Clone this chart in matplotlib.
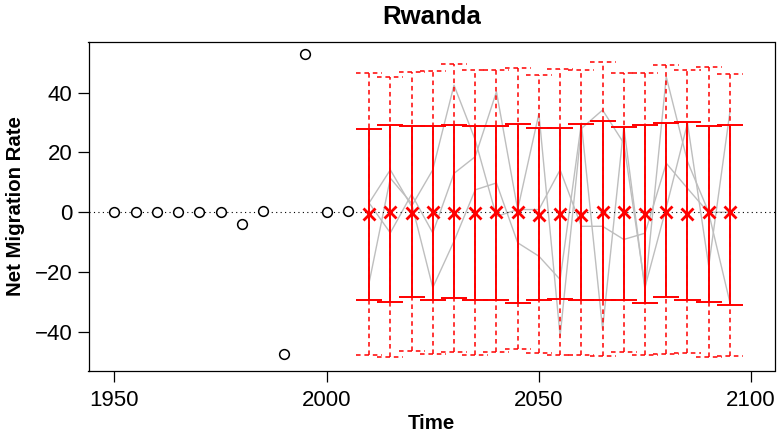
import matplotlib
matplotlib.use("Agg")
import matplotlib.pyplot as plt

# observed net migration rates
obs_years = [1950, 1955, 1960, 1965, 1970, 1975, 1980, 1985, 1990, 1995, 2000, 2005]
obs_rate = [0.0, 0.0, 0.0, 0.0, 0.0, 0.0, -3.9, 0.5, -47.4, 52.9, 0.1, 0.3]

# projections
proj_years = [2010, 2015, 2020, 2025, 2030, 2035, 2040, 2045, 2050,
              2055, 2060, 2065, 2070, 2075, 2080, 2085, 2090, 2095]
median = [-0.5, 0.0, -0.2, 0.0, -0.2, -0.2, 0.0, 0.0, -0.9,
          -0.5, -0.8, 0.0, 0.2, -0.5, 0.1, -0.5, 0.0, 0.2]
upper80 = [27.8, 29.2, 28.9, 28.9, 29.2, 28.9, 28.7, 29.5, 28.1,
           28.1, 29.4, 30.6, 28.4, 29.1, 29.8, 30.2, 28.9, 29.3]
lower80 = [-29.2, -29.9, -28.5, -29.3, -28.7, -29.3, -29.3, -30.2, -29.4,
           -28.9, -29.3, -29.3, -29.3, -30.5, -28.3, -29.4, -29.9, -31.0]
upper95 = [46.5, 45.1, 47.0, 47.3, 49.6, 47.6, 47.6, 48.1, 45.9,
           47.9, 47.6, 50.3, 46.5, 46.5, 49.2, 47.6, 48.7, 46.2]
lower95 = [-47.8, -48.5, -46.3, -47.4, -46.9, -47.8, -46.9, -45.8, -47.1,
           -47.8, -47.6, -48.0, -46.9, -47.8, -47.4, -47.1, -48.5, -48.0]

# a few sampled trajectories
traj1 = [3.1, 14.2, 2.0, 14.2, 42.5, 24.2, -1.4, 0.9, 0.9,
         14.2, -4.7, -4.7, -9.1, -7.0, 16.4, 8.0, -0.2, -30.2]
traj2 = [3.1, -6.9, 6.0, -6.9, 13.0, 18.6, 40.3, 0.9, 33.0,
         -41.4, 28.0, 34.2, 23.1, -25.0, 1.5, 29.8, -18.0, 33.6]
traj3 = [-23.6, 11.4, 3.0, -25.2, -9.7, 7.5, 9.8, -10.2, -14.7,
         -22.5, 29.8, -39.1, 28.6, -26.0, 45.3, 17.0, 0.0, 0.0]

plt.rcParams['font.family'] = ['Liberation Sans', 'DejaVu Sans']

fig = plt.figure(figsize=(7.77, 4.41), dpi=100)
ax = fig.add_axes([88.5 / 777, 1 - 371 / 441, (774.5 - 88.5) / 777, (371 - 41.7) / 441])

for tr in (traj1, traj2, traj3):
    ax.plot(proj_years, tr, color='#bebebe', lw=1.0, zorder=1)

ax.axhline(0, color='black', lw=0.8, ls=(0, (1, 3)), zorder=2)

cap = 3.07
dash = (0, (3, 2.5))
ax.vlines(proj_years, lower95, upper95, colors='red', lw=1.1, linestyles=[dash], zorder=3)
ax.vlines(proj_years, lower80, upper80, colors='red', lw=1.4, zorder=3)
for x, a, b, c, d in zip(proj_years, lower80, upper80, lower95, upper95):
    ax.hlines([a, b], x - cap, x + cap, colors='red', lw=1.4, zorder=3)
    ax.hlines([c, d], x - cap, x + cap, colors='red', lw=1.1, linestyles=[dash], zorder=3)

ax.plot(proj_years, median, ls='none', marker='x', color='red', ms=8, mew=2, zorder=4)
ax.plot(obs_years, obs_rate, ls='none', marker='o', mfc='white', mec='black',
        ms=7, mew=1.1, zorder=5)

ax.set_xlim(1943.9, 2105.5)
ax.set_ylim(-53.1, 57.05)
ax.set_xticks([1950, 2000, 2050, 2100])
ax.set_yticks([-40, -20, 0, 20, 40])
ax.set_yticklabels(['\u221240', '\u221220', '0', '20', '40'])
ax.tick_params(labelsize=16, length=7.7, width=0.9)
ax.tick_params(axis='x', pad=6)
ax.tick_params(axis='y', pad=4)
for s in ax.spines.values():
    s.set_linewidth(0.9)

ax.set_title('Rwanda', fontsize=18.5, fontweight='bold', pad=13)
ax.set_xlabel('Time', fontsize=14.7, fontweight='bold', labelpad=2)
ax.set_ylabel('Net Migration Rate', fontsize=14.7, fontweight='bold', labelpad=7)

fig.savefig('out.png', dpi=100)
